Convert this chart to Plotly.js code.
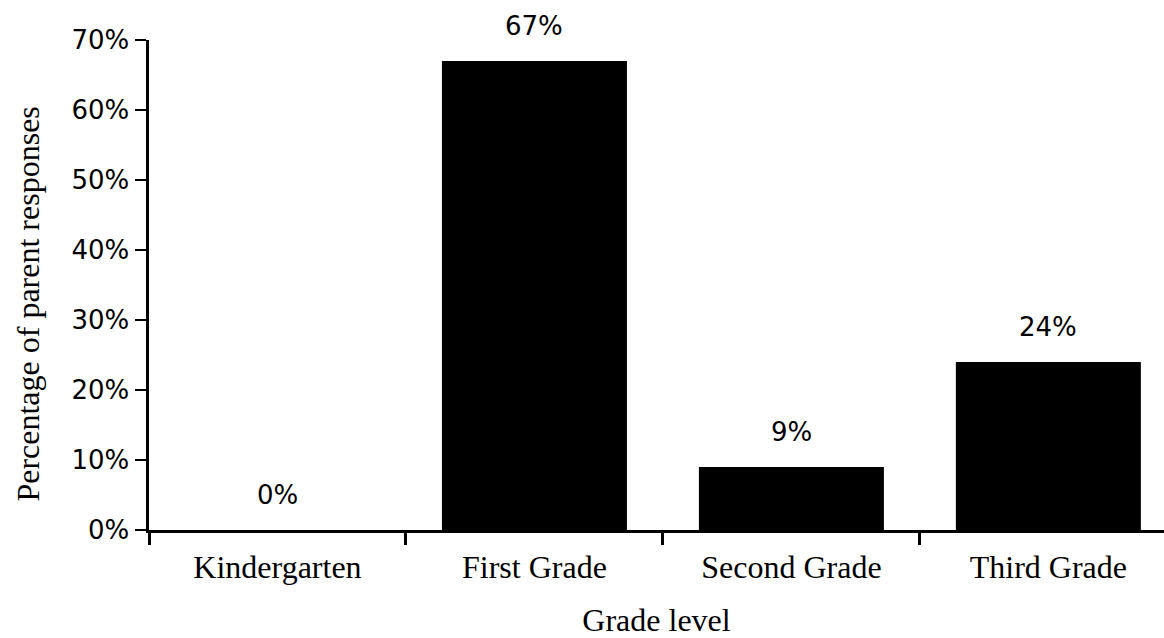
<!DOCTYPE html>
<html>
<head>
<meta charset="utf-8">
<script src="https://cdn.plot.ly/plotly-3.0.1.min.js"></script>
<style>
  html, body { margin: 0; padding: 0; background: #ffffff; }
  #chart { width: 1164px; height: 638px; }
</style>
</head>
<body>
<div id="chart"></div>
<script>
// Grade level at which parents reported the response
const grades = ['Kindergarten', 'First Grade', 'Second Grade', 'Third Grade'];
const percentResponses = [0, 67, 9, 24];
const yTickValues = [0, 10, 20, 30, 40, 50, 60, 70];
const yTickLabels = ['0%', '10%', '20%', '30%', '40%', '50%', '60%', '70%'];

const sansFont = 'DejaVu Sans, sans-serif';
const serifFont = 'Liberation Serif, Times New Roman, serif';

const barTrace = {
  type: 'bar',
  x: grades,
  y: percentResponses,
  width: 0.72,
  marker: { color: '#000000', line: { width: 0 } },
  hoverinfo: 'skip'
};

// Value labels sit above each bar
const valueLabels = grades.map((g, i) => ({
  x: g,
  y: percentResponses[i],
  xref: 'x',
  yref: 'y',
  text: percentResponses[i] + '%',
  showarrow: false,
  yanchor: 'bottom',
  yshift: 18,
  font: { family: sansFont, size: 26, color: '#000000' }
}));

// Vertical axis title, drawn as a rotated annotation
const yTitle = {
  xref: 'paper',
  yref: 'paper',
  x: 0,
  y: 0.46,
  xshift: -121,
  xanchor: 'center',
  yanchor: 'middle',
  textangle: -90,
  showarrow: false,
  text: 'Percentage of parent responses',
  font: { family: serifFont, size: 32, color: '#000000' }
};

const layout = {
  width: 1164,
  height: 638,
  margin: { l: 149, r: 0, t: 40, b: 108 },
  paper_bgcolor: '#ffffff',
  plot_bgcolor: '#ffffff',
  showlegend: false,
  bargap: 0.28,
  xaxis: {
    type: 'category',
    range: [-0.5, 3.45],
    showline: true,
    linecolor: '#000000',
    linewidth: 3,
    ticks: 'outside',
    tickson: 'boundaries',
    ticklen: 12,
    tickwidth: 3,
    tickcolor: '#000000',
    ticklabelstandoff: 7,
    showgrid: false,
    zeroline: false,
    fixedrange: true,
    tickfont: { family: serifFont, size: 32, color: '#000000' },
    title: {
      text: 'Grade level',
      font: { family: serifFont, size: 32, color: '#000000' },
      standoff: 25
    },
    automargin: false
  },
  yaxis: {
    range: [0, 70],
    tickvals: yTickValues,
    ticktext: yTickLabels,
    showline: true,
    linecolor: '#000000',
    linewidth: 3.5,
    ticks: 'outside',
    ticklen: 11,
    tickwidth: 2,
    tickcolor: '#000000',
    showgrid: false,
    zeroline: false,
    fixedrange: true,
    tickfont: { family: sansFont, size: 26, color: '#000000' },
    automargin: false
  },
  annotations: valueLabels.concat([yTitle])
};

Plotly.newPlot('chart', [barTrace], layout, { staticPlot: true, displayModeBar: false });
</script>
</body>
</html>
